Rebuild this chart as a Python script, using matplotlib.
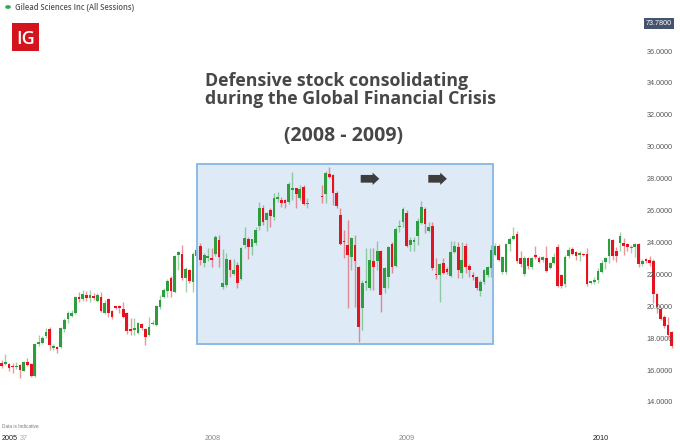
import matplotlib
matplotlib.use('Agg')
import matplotlib.pyplot as plt
import matplotlib.patches as patches
import numpy as np

# weekly candles, Dec 2006 - Feb 2010 (None = gap in the feed)
opens = [16.52, 16.44, 16.44, 16.27, 16.23, 16.38, 16.02, 16.58, 16.42, 15.69,
         17.67, 17.78, 18.20, 18.63, 17.46, 17.50, 17.53, 18.63, 19.24, 19.45,
         19.66, 20.66, 20.51, 20.77, 20.60, 20.72, 20.41, 20.66, 19.66, 20.49,
         19.76, 19.99, 20.03, 19.89, 19.66, 18.63, 18.60, 18.36, 18.95, 18.61,
         18.26, 18.95, 18.88, 19.99, 20.66, 21.04, 21.81, 20.97, 23.27, 23.33,
         21.85, 22.33, 21.60, 23.21, 23.84, 22.79, 23.06, 23.06, 23.33, 24.21,
         21.24, 21.39, 22.96, 22.08, 22.64, 21.77, 23.90, 24.27, 23.75, 24.04,
         25.09, 26.20, 25.47, 26.10, 25.64, 26.80, 26.72, 26.72, 26.62, 27.38,
         27.45, 26.83, 27.52, 26.47, None, None, None, 26.97, 27.10, 28.35,
         28.27, 27.18, 25.78, 24.17, 23.88, 23.13, 23.90, 22.50, 19.93, 21.54,
         21.18, 22.92, 22.92, 23.55, 21.18, 21.87, 23.96, 22.58, 25.00, 25.36,
         25.93, 23.90, 24.11, 24.46, 25.30, 26.14, 24.80, 25.09, 22.06, 22.02,
         22.75, 22.37, 21.96, 23.48, 23.75, 22.12, 23.84, 22.58, 22.02, 21.87,
         21.04, 21.60, 22.02, 22.44, 23.27, 23.84, 22.23, 22.23, 23.96, 24.26,
         24.59, 23.06, 22.08, 23.06, 22.54, 23.28, 23.07, 22.96, 23.07, 22.48,
         22.75, 23.76, 22.02, 21.46, 23.21, 23.65, 23.44, 23.28, 23.32, 23.32,
         21.55, 21.56, 21.71, 22.23, 22.82, 23.21, 24.22, 23.55, 24.01, 24.05,
         23.97, 23.69, 23.80, 23.97, 22.69, 23.00, 22.96, 22.92, 20.83, 19.87,
         19.41, 18.89, 18.47]
highs = [16.69, 17.07, 16.50, 16.48, 16.56, 16.44, 16.65, 16.80, 16.50, 17.75,
         18.26, 18.20, 18.67, 18.78, 17.70, 17.60, 18.75, 19.30, 19.75, 19.82,
         20.70, 20.97, 21.08, 21.00, 21.08, 20.90, 20.90, 20.97, 20.45, 20.60,
         19.85, 20.10, 20.14, 20.35, 19.70, 19.30, 19.30, 19.10, 19.00, 18.70,
         19.40, 19.20, 20.15, 20.77, 21.20, 21.80, 21.95, 23.30, 23.55, 23.90,
         22.50, 22.40, 23.45, 23.84, 24.04, 23.40, 23.69, 23.69, 24.52, 24.52,
         23.63, 23.38, 23.00, 23.00, 22.85, 23.75, 25.00, 24.40, 24.30, 25.05,
         26.61, 26.40, 26.00, 26.20, 27.14, 27.24, 26.93, 26.80, 27.87, 28.50,
         27.50, 27.66, 27.66, 26.83, None, None, None, 27.66, 28.55, 28.81,
         28.35, 27.30, 26.20, 24.84, 25.47, 24.40, 24.53, 22.60, 21.70, 23.69,
         23.69, 23.69, 24.17, 23.60, 22.50, 23.85, 24.11, 25.00, 25.47, 26.30,
         26.10, 24.40, 24.40, 25.60, 26.68, 26.30, 25.36, 25.36, 23.06, 22.80,
         23.06, 22.50, 24.17, 24.17, 24.10, 24.11, 24.00, 22.70, 22.23, 21.95,
         21.70, 22.40, 22.60, 23.90, 24.00, 23.96, 23.20, 24.00, 24.40, 25.01,
         24.80, 23.50, 23.20, 23.15, 23.15, 23.85, 23.20, 23.20, 23.84, 22.85,
         23.42, 23.97, 22.10, 23.25, 23.76, 23.80, 23.50, 23.50, 23.40, 23.69,
         21.67, 21.88, 22.44, 22.96, 23.17, 24.32, 24.30, 23.76, 24.74, 24.32,
         24.00, 23.90, 24.05, 24.00, 23.00, 23.10, 23.21, 23.00, 20.90, 20.00,
         19.50, 19.41, 18.50]
lows = [16.17, 16.40, 16.00, 15.85, 16.15, 15.54, 16.00, 16.30, 15.65, 15.65,
        17.60, 17.70, 18.10, 17.32, 17.35, 17.15, 17.45, 18.42, 18.99, 19.40,
        19.60, 20.35, 20.40, 20.40, 20.35, 20.45, 20.35, 19.70, 19.60, 19.36,
        19.24, 19.90, 19.66, 19.35, 18.32, 18.26, 18.26, 18.30, 18.60, 17.63,
        18.20, 18.90, 18.80, 19.90, 20.56, 20.66, 20.66, 20.90, 22.33, 21.70,
        20.97, 21.50, 20.97, 23.10, 22.64, 22.54, 22.90, 22.54, 23.20, 22.54,
        21.12, 21.29, 21.87, 22.00, 21.18, 21.70, 23.70, 23.00, 23.27, 23.90,
        24.84, 25.15, 24.80, 25.05, 25.50, 26.62, 26.30, 26.20, 26.50, 26.72,
        26.20, 26.70, 26.41, 26.20, None, None, None, 26.51, 26.51, 28.10,
        26.41, 26.20, 23.90, 23.06, 19.93, 22.33, 20.03, 17.84, 18.57, 21.08,
        21.10, 21.08, 22.33, 19.72, 20.87, 21.18, 22.12, 22.50, 24.74, 25.05,
        23.75, 23.55, 23.55, 23.90, 25.20, 24.63, 24.70, 22.35, 21.75, 20.35,
        22.10, 22.10, 21.90, 23.40, 21.81, 21.81, 22.12, 21.92, 21.70, 21.08,
        20.70, 21.46, 21.87, 21.92, 23.20, 22.90, 22.10, 22.10, 23.50, 24.20,
        22.80, 22.50, 21.95, 22.40, 22.40, 23.00, 22.75, 22.85, 22.20, 22.40,
        22.70, 21.25, 21.19, 21.29, 23.10, 23.25, 22.96, 22.92, 23.20, 21.33,
        21.46, 21.46, 21.50, 22.13, 22.40, 22.75, 22.96, 22.86, 23.55, 23.28,
        23.55, 23.42, 23.17, 22.54, 22.60, 22.80, 22.59, 20.25, 19.62, 19.20,
        18.68, 18.16, 17.42]
closes = [16.31, 16.56, 16.17, 16.25, 16.31, 16.06, 16.58, 16.38, 15.69, 17.69,
          17.80, 18.05, 18.42, 17.63, 17.59, 17.40, 18.67, 19.20, 19.62, 19.66,
          20.62, 20.51, 20.81, 20.56, 20.77, 20.56, 20.77, 19.76, 20.24, 19.62,
          19.41, 19.98, 19.97, 19.41, 18.51, 18.53, 18.62, 19.03, 18.68, 18.15,
          18.78, 19.03, 20.08, 20.45, 21.08, 21.66, 21.02, 23.21, 23.48, 21.81,
          22.37, 21.66, 23.33, 23.59, 22.96, 23.27, 23.21, 22.96, 24.38, 23.12,
          21.54, 23.00, 22.33, 22.33, 21.49, 23.69, 24.36, 23.79, 24.25, 24.84,
          26.20, 25.36, 25.88, 25.72, 26.87, 26.83, 26.55, 26.51, 27.73, 27.40,
          27.10, 27.39, 26.47, 26.56, None, None, None, 26.89, 28.44, 28.19,
          27.18, 26.35, 23.96, 24.09, 23.27, 24.32, 22.92, 18.78, 21.54, 21.66,
          22.96, 22.54, 23.55, 20.77, 22.44, 23.75, 22.54, 24.88, 25.03, 26.14,
          23.84, 24.21, 24.17, 25.43, 26.26, 25.22, 25.05, 22.44, 22.00, 22.71,
          22.17, 22.23, 23.48, 23.84, 22.33, 22.96, 22.54, 22.33, 21.92, 21.18,
          21.60, 22.33, 22.50, 23.59, 23.84, 22.96, 23.13, 23.96, 24.26, 24.46,
          22.92, 22.71, 23.06, 22.58, 23.06, 23.13, 22.86, 23.13, 22.29, 22.75,
          23.13, 21.33, 21.33, 23.17, 23.59, 23.34, 23.21, 23.42, 23.26, 21.46,
          21.57, 21.71, 22.29, 22.80, 23.07, 24.26, 23.21, 23.21, 24.47, 23.84,
          23.76, 23.80, 23.97, 22.71, 22.92, 22.92, 22.80, 20.83, 19.99, 19.24,
          18.82, 18.26, 17.60]

price_ticks = [14, 16, 18, 20, 22, 24, 26, 28, 30, 32, 34, 36]
year_labels = ['2008', '2009', '2010']
year_weeks = [57.4, 110.1, 162.8]   # candle index where each year starts
box_weeks = (53.1, 133.6)
box_prices = (17.69, 28.98)
last_price = '73.7800'

GREEN = '#2e9d3f'
RED = '#e3141f'
W, H = 680, 447


def fx(x):
    return x / W


def fy(y):
    return 1 - y / H


fig = plt.figure(figsize=(6.8, 4.47), dpi=100)
fig.patch.set_facecolor('white')
ax = fig.add_axes([0, 0, 1, 1])
ax.set_xlim(-0.46, 184.27)
ax.set_ylim(11.24, 39.26)
ax.axis('off')

# highlighted consolidation range
ax.add_patch(patches.Rectangle((box_weeks[0], box_prices[0]),
                               box_weeks[1] - box_weeks[0],
                               box_prices[1] - box_prices[0],
                               facecolor='#deeaf6', edgecolor='none', zorder=0))
ax.add_patch(patches.Rectangle((box_weeks[0], box_prices[0]),
                               box_weeks[1] - box_weeks[0],
                               box_prices[1] - box_prices[0],
                               facecolor='none', edgecolor='#8cbbe6',
                               linewidth=1.4, zorder=4))

o = np.array([np.nan if v is None else v for v in opens])
h = np.array([np.nan if v is None else v for v in highs])
l = np.array([np.nan if v is None else v for v in lows])
c = np.array([np.nan if v is None else v for v in closes])
idx = np.arange(len(o))
ok = ~np.isnan(o)
up = ok & (c >= o)
dn = ok & (c < o)

for mask, col in ((up, GREEN), (dn, RED)):
    ax.vlines(idx[mask], l[mask], h[mask], color=col, alpha=0.45,
              linewidth=1.0, zorder=2)
    body = np.maximum(np.abs(c[mask] - o[mask]), 0.09)
    ax.bar(idx[mask], body, bottom=np.minimum(o[mask], c[mask]), width=0.74,
           color=col, linewidth=0, zorder=3)

# price scale on the right, drawn over the candles
for p in price_ticks:
    ax.text(0.989, p, f'{p:.4f}', transform=ax.get_yaxis_transform(),
            ha='right', va='center', fontsize=5.2, color='#555555',
            family='Liberation Sans', zorder=5)
fig.text(fx(659), fy(23.5), last_price, ha='center', va='center',
         fontsize=5.2, color='white', family='Liberation Sans',
         bbox=dict(boxstyle='square,pad=0.25', facecolor='#45546d',
                   edgecolor='none'))

# time axis
for lab, wk in zip(year_labels, year_weeks):
    ax.text(wk, fy(438), lab, transform=ax.get_xaxis_transform(),
            ha='center', va='center', fontsize=5.2, family='Liberation Sans',
            color='#222222' if lab == '2010' else '#888888')
fig.text(fx(2), fy(438), '2005', ha='left', va='center', fontsize=5.2,
         family='Liberation Sans', color='#222222')
fig.text(fx(20), fy(438), '37', ha='left', va='center', fontsize=5.2,
         family='Liberation Sans', color='#aaaaaa')
fig.text(fx(2), fy(427), 'Data is Indicative', ha='left', va='center',
         fontsize=3.4, family='Liberation Sans', color='#777777')

# header and logo
fig.patches.append(patches.Circle((fx(8), fy(7)), 0.0042,
                                  transform=fig.transFigure,
                                  facecolor='#34a853', edgecolor='none'))
fig.text(fx(15), fy(7), 'Gilead Sciences Inc (All Sessions)', ha='left',
         va='center', fontsize=5.5, family='Open Sans', fontweight='semibold',
         color='#555555')
fig.patches.append(patches.Rectangle((fx(11.7), fy(50.7)), fx(27.3),
                                     (50.7 - 23.3) / H,
                                     transform=fig.transFigure,
                                     facecolor='#d3141c', edgecolor='none'))
fig.text(fx(25.5), fy(38.5), 'IG', ha='center', va='center', fontsize=13,
         family='Open Sans', fontweight='semibold', color='white')

# annotation
title_kw = dict(ha='left', va='baseline', fontsize=12.8, family='Open Sans',
                fontweight='bold', color='#474747')
fig.text(fx(205), fy(86.5), 'Defensive stock consolidating', **title_kw)
fig.text(fx(205), fy(103.5), 'during the Global Financial Crisis', **title_kw)
fig.text(fx(343), fy(135.5), '(2008 - 2009)', ha='center', va='center',
         fontsize=14, family='Open Sans', fontweight='bold', color='#474747')

for x0 in (360.7, 428.3):
    fig.patches.append(patches.FancyArrow(fx(x0), fy(178.8), fx(18.6), 0,
                                          width=7.7 / H, head_width=12.3 / H,
                                          head_length=fx(6.7),
                                          length_includes_head=True,
                                          transform=fig.transFigure,
                                          facecolor='#3d3d3d',
                                          edgecolor='none'))

fig.savefig('out.png', dpi=100)
